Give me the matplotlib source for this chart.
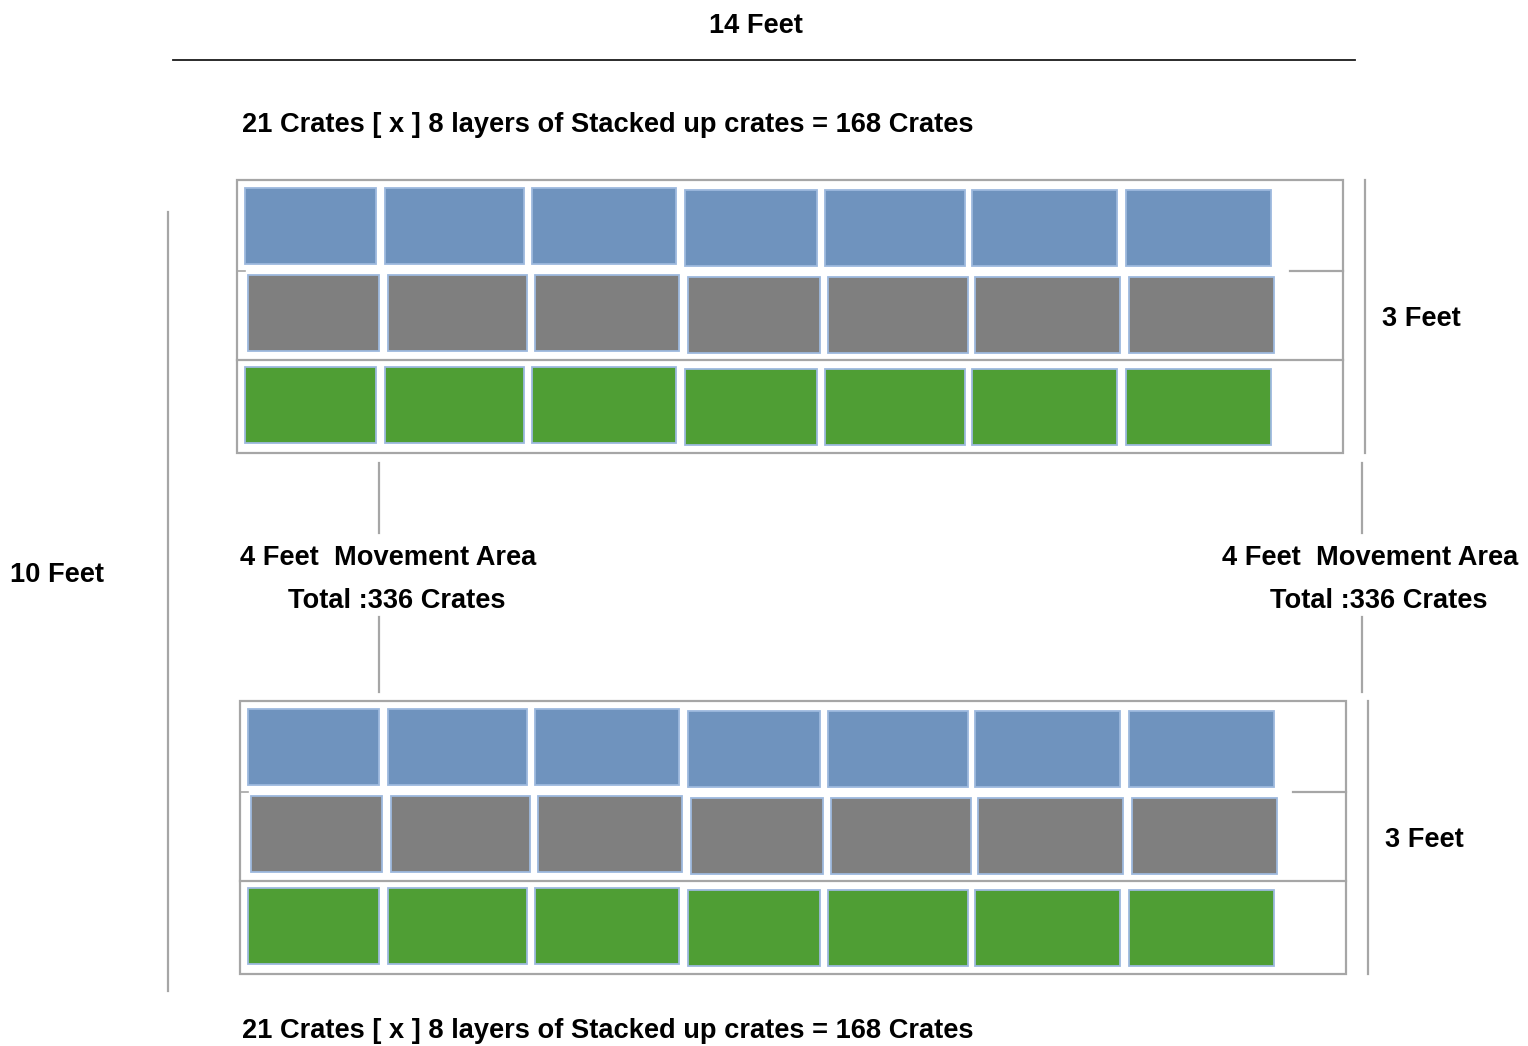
import matplotlib.pyplot as plt
from matplotlib.patches import Rectangle

plt.rcParams['font.family'] = ['Liberation Sans', 'DejaVu Sans']

# data
total_width_label = "14 Feet"
total_height_label = "10 Feet"
block_height_label = "3 Feet"
layer_label = "21 Crates [ x ] 8 layers of Stacked up crates = 168 Crates"
aisle_label = "4 Feet  Movement Area"
total_label = "Total :336 Crates"
crates_per_row = 7
row_colors = ["#6F93BE", "#7F7F7F", "#4F9E34"]
row_shift = [0, 3, 0]          # gray row sits a little to the right

# layout (pixel space)
col_left = [245, 385, 532, 685, 825, 972, 1126]
col_width = [131, 139, 144, 132, 140, 145, 145]
col_drop = [0, 0, 0, 2, 2, 2, 2]   # right half of the rows sits a bit lower
row_top = [188, 275, 367]
row_h = 76
blocks = [(0, 0), (3, 521)]     # (dx, dy) of each block

fig = plt.figure(figsize=(15.28, 10.46), dpi=100)
ax = fig.add_axes([0, 0, 1, 1])
ax.set_xlim(0, 1528)
ax.set_ylim(1046, 0)
ax.axis('off')

frame = "#A6A6A6"
edge = "#9DB9DE"
fs = 19.6

for dx, dy in blocks:
    ax.add_patch(Rectangle((237 + dx, 180 + dy), 1106, 273, fill=False,
                           ec=frame, lw=1.6))
    ax.plot([237 + dx, 1343 + dx], [360 + dy, 360 + dy], color=frame, lw=1.6)
    ax.plot([1290 + dx, 1343 + dx], [271 + dy, 271 + dy], color=frame, lw=1.6)
    ax.plot([237 + dx, 245 + dx], [271 + dy, 271 + dy], color=frame, lw=1.2)
    for r, color in enumerate(row_colors):
        for c in range(crates_per_row):
            ax.add_patch(Rectangle((col_left[c] + row_shift[r] + dx,
                                    row_top[r] + col_drop[c] + dy),
                                   col_width[c], row_h, fc=color, ec=edge, lw=1.3))
    ax.plot([1365 + dx, 1365 + dx], [180 + dy, 453 + dy], color=frame, lw=1.6)
    ax.text(1382 + dx, 319 + dy, block_height_label, fontsize=fs,
            fontweight='bold', va='center', ha='left')

# outer dimension lines
ax.plot([173, 1355], [60, 60], color="#1a1a1a", lw=1.3)
ax.plot([168, 168], [212, 991], color=frame, lw=1.6)

# aisle connector lines
for x in (379, 1362):
    ax.plot([x, x], [463, 533], color=frame, lw=1.6)
    ax.plot([x, x], [617, 692], color=frame, lw=1.6)

ax.text(756, 26, total_width_label, fontsize=fs, fontweight='bold', ha='center', va='center')
ax.text(242, 125, layer_label, fontsize=fs, fontweight='bold', ha='left', va='center')
ax.text(242, 1031, layer_label, fontsize=fs, fontweight='bold', ha='left', va='center')
ax.text(10, 575, total_height_label, fontsize=fs, fontweight='bold', ha='left', va='center')
for x0, x1 in ((240, 288), (1222, 1270)):
    ax.text(x0, 558, aisle_label, fontsize=fs, fontweight='bold', ha='left', va='center')
    ax.text(x1, 601, total_label, fontsize=fs, fontweight='bold', ha='left', va='center')

fig.savefig("out.png", dpi=100)
